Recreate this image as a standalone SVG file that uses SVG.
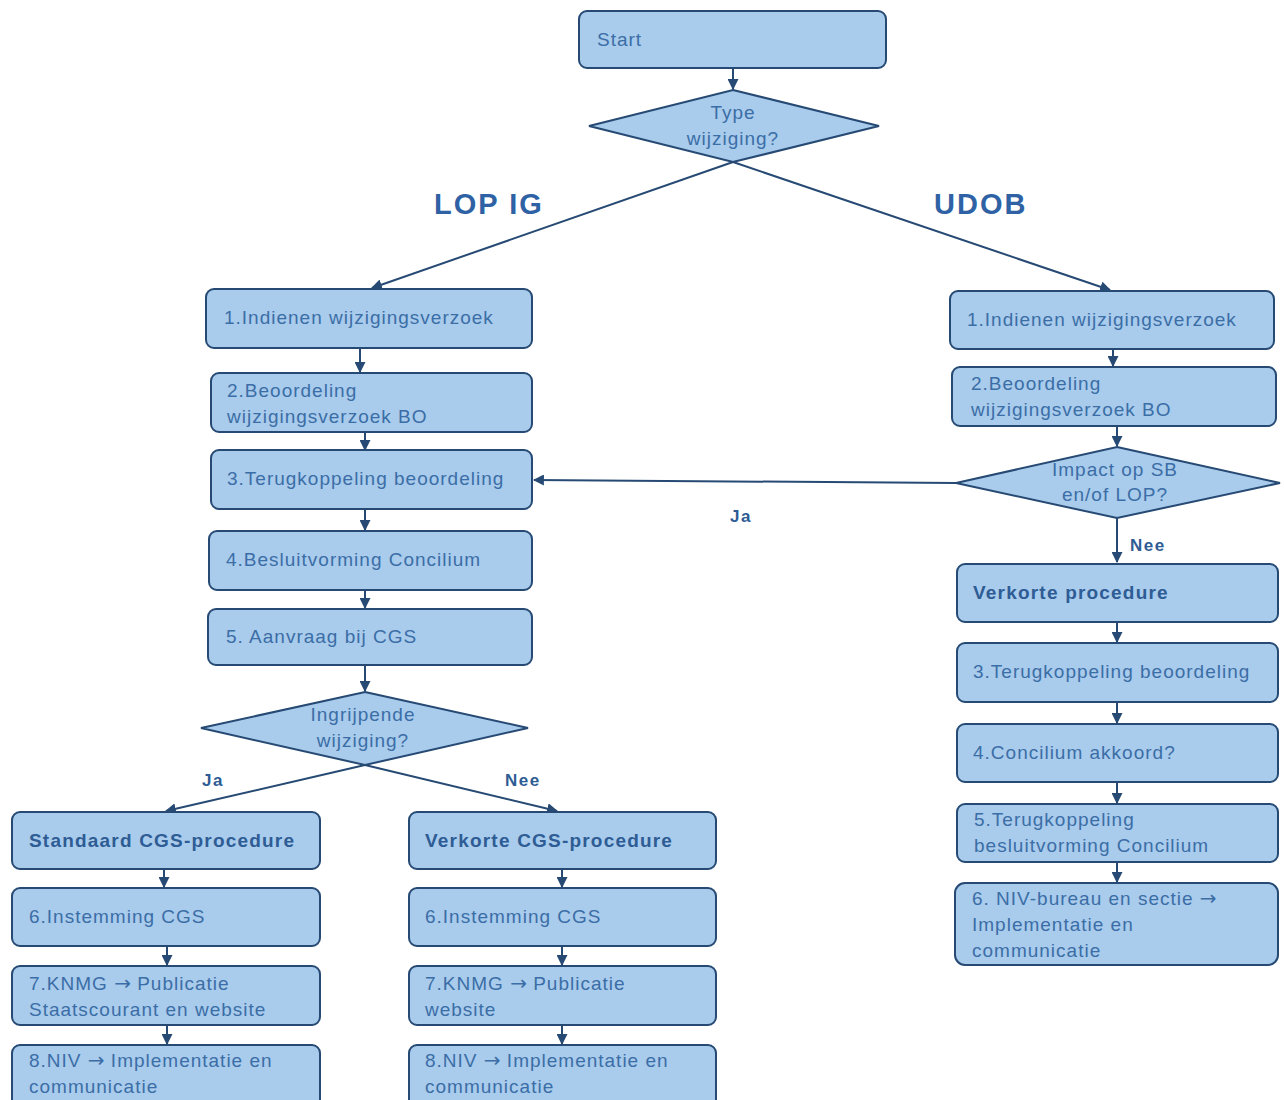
<svg xmlns="http://www.w3.org/2000/svg" width="1284" height="1100" viewBox="0 0 1284 1100">
<defs>
<style>
.box{fill:#a9cbec;stroke:#264a73;stroke-width:2}
.t{font-family:"Liberation Sans",Arial,sans-serif;font-size:19px;fill:#3b6ea6;letter-spacing:1px}
.b{font-weight:bold;fill:#2e5c94;letter-spacing:1.2px}
.ar{font-family:"DejaVu Sans",sans-serif;font-size:20px;letter-spacing:0}
.big{font-family:"Liberation Sans",Arial,sans-serif;font-size:29px;font-weight:bold;fill:#2e62a4;letter-spacing:2px}
.lbl{font-family:"Liberation Sans",Arial,sans-serif;font-size:17px;font-weight:bold;fill:#2e5c94;letter-spacing:1.5px}
.c{text-anchor:middle}
.con{stroke:#264a73;stroke-width:2;fill:none;marker-end:url(#ah)}
</style>
<marker id="ah" viewBox="0 0 10 10" refX="9" refY="5" markerWidth="11" markerHeight="11" orient="auto" markerUnits="userSpaceOnUse">
<path d="M0,0 L10,5 L0,10 z" fill="#264a73"/>
</marker>
</defs>
<rect width="1284" height="1100" fill="#ffffff"/>

<g id="connectors">
<line class="con" x1="733" y1="69" x2="733" y2="89"/>
<line class="con" x1="733" y1="162" x2="372" y2="288"/>
<line class="con" x1="733" y1="162" x2="1110" y2="290"/>
<line class="con" x1="360" y1="349" x2="360" y2="372"/>
<line class="con" x1="365" y1="432" x2="365" y2="450"/>
<line class="con" x1="365" y1="509" x2="365" y2="530"/>
<line class="con" x1="365" y1="590" x2="365" y2="608"/>
<line class="con" x1="365" y1="666" x2="365" y2="691"/>
<line class="con" x1="365" y1="765" x2="166" y2="811"/>
<line class="con" x1="365" y1="765" x2="557" y2="811"/>
<line class="con" x1="164" y1="869" x2="164" y2="887"/>
<line class="con" x1="167" y1="946" x2="167" y2="965"/>
<line class="con" x1="167" y1="1025" x2="167" y2="1044"/>
<line class="con" x1="562" y1="869" x2="562" y2="887"/>
<line class="con" x1="562" y1="946" x2="562" y2="965"/>
<line class="con" x1="562" y1="1025" x2="562" y2="1044"/>
<line class="con" x1="1113" y1="349" x2="1113" y2="366"/>
<line class="con" x1="1117" y1="426" x2="1117" y2="446"/>
<line class="con" x1="956" y1="483" x2="534" y2="480"/>
<line class="con" x1="1117" y1="518" x2="1117" y2="562"/>
<line class="con" x1="1117" y1="622" x2="1117" y2="642"/>
<line class="con" x1="1117" y1="702" x2="1117" y2="723"/>
<line class="con" x1="1117" y1="782" x2="1117" y2="803"/>
<line class="con" x1="1117" y1="862" x2="1117" y2="882"/>
<text class="big" x="434" y="214">LOP IG</text>
<text class="big" x="934" y="214">UDOB</text>
<text class="lbl" x="202" y="786">Ja</text>
<text class="lbl" x="505" y="786">Nee</text>
<text class="lbl" x="730" y="522">Ja</text>
<text class="lbl" x="1130" y="551">Nee</text>
</g>

<g id="start"><rect class="box" x="579" y="11" width="307" height="57" rx="8"/><text class="t" x="597" y="46">Start</text></g>
<g id="type"><polygon class="box" points="733,90 879,126 733,162 589,126"/><text class="t c" x="733" y="119">Type</text><text class="t c" x="733" y="145">wijziging?</text></g>

<g id="l1"><rect class="box" x="206" y="289" width="326" height="59" rx="8"/><text class="t" x="224" y="324">1.Indienen wijzigingsverzoek</text></g>
<g id="l2"><rect class="box" x="211" y="373" width="321" height="59" rx="8"/><text class="t" x="227" y="397">2.Beoordeling</text><text class="t" x="227" y="423">wijzigingsverzoek BO</text></g>
<g id="l3"><rect class="box" x="211" y="450" width="321" height="59" rx="8"/><text class="t" x="227" y="485">3.Terugkoppeling beoordeling</text></g>
<g id="l4"><rect class="box" x="209" y="531" width="323" height="59" rx="8"/><text class="t" x="226" y="566">4.Besluitvorming Concilium</text></g>
<g id="l5"><rect class="box" x="208" y="609" width="324" height="56" rx="8"/><text class="t" x="226" y="643">5. Aanvraag bij CGS</text></g>
<g id="ingrijpend"><polygon class="box" points="365,692 528,728 365,765 201,728"/><text class="t c" x="363" y="721">Ingrijpende</text><text class="t c" x="363" y="747">wijziging?</text></g>

<g id="s1"><rect class="box" x="12" y="812" width="308" height="57" rx="8"/><text class="t b" x="29" y="847">Standaard CGS-procedure</text></g>
<g id="s2"><rect class="box" x="12" y="888" width="308" height="58" rx="8"/><text class="t" x="29" y="923">6.Instemming CGS</text></g>
<g id="s3"><rect class="box" x="12" y="966" width="308" height="59" rx="8"/><text class="t" x="29" y="990">7.KNMG <tspan class="ar">→</tspan> Publicatie</text><text class="t" x="29" y="1016">Staatscourant en website</text></g>
<g id="s4"><rect class="box" x="12" y="1045" width="308" height="65" rx="8"/><text class="t" x="29" y="1067">8.NIV <tspan class="ar">→</tspan> Implementatie en</text><text class="t" x="29" y="1093">communicatie</text></g>

<g id="v1"><rect class="box" x="409" y="812" width="307" height="57" rx="8"/><text class="t b" x="425" y="847">Verkorte CGS-procedure</text></g>
<g id="v2"><rect class="box" x="409" y="888" width="307" height="58" rx="8"/><text class="t" x="425" y="923">6.Instemming CGS</text></g>
<g id="v3"><rect class="box" x="409" y="966" width="307" height="59" rx="8"/><text class="t" x="425" y="990">7.KNMG <tspan class="ar">→</tspan> Publicatie</text><text class="t" x="425" y="1016">website</text></g>
<g id="v4"><rect class="box" x="409" y="1045" width="307" height="65" rx="8"/><text class="t" x="425" y="1067">8.NIV <tspan class="ar">→</tspan> Implementatie en</text><text class="t" x="425" y="1093">communicatie</text></g>

<g id="r1"><rect class="box" x="950" y="291" width="324" height="58" rx="8"/><text class="t" x="967" y="326">1.Indienen wijzigingsverzoek</text></g>
<g id="r2"><rect class="box" x="952" y="367" width="324" height="59" rx="8"/><text class="t" x="971" y="390">2.Beoordeling</text><text class="t" x="971" y="416">wijzigingsverzoek BO</text></g>
<g id="impact"><polygon class="box" points="1117,447 1280,483 1117,518 956,483"/><text class="t c" x="1115" y="476">Impact op SB</text><text class="t c" x="1115" y="501">en/of LOP?</text></g>
<g id="r3"><rect class="box" x="957" y="564" width="321" height="58" rx="8"/><text class="t b" x="973" y="599">Verkorte procedure</text></g>
<g id="r4"><rect class="box" x="957" y="643" width="321" height="59" rx="8"/><text class="t" x="973" y="678">3.Terugkoppeling beoordeling</text></g>
<g id="r5"><rect class="box" x="957" y="724" width="321" height="58" rx="8"/><text class="t" x="973" y="759">4.Concilium akkoord?</text></g>
<g id="r6"><rect class="box" x="957" y="804" width="321" height="58" rx="8"/><text class="t" x="974" y="826">5.Terugkoppeling</text><text class="t" x="974" y="852">besluitvorming Concilium</text></g>
<g id="r7"><rect class="box" x="955" y="883" width="323" height="82" rx="10"/><text class="t" x="972" y="905">6. NIV-bureau en sectie <tspan class="ar">→</tspan></text><text class="t" x="972" y="931">Implementatie en</text><text class="t" x="972" y="957">communicatie</text></g>
</svg>
